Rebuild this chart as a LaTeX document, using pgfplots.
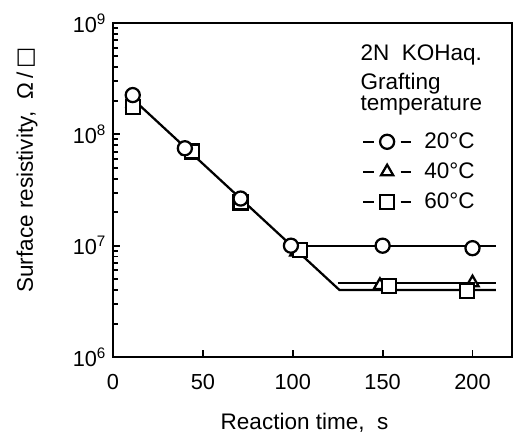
\documentclass[border=0pt]{standalone}
\usepackage{pgfplots}
\pgfplotsset{compat=1.18}
\usepackage{fontspec}
\setmainfont{Liberation Sans}
\newfontfamily\dejavu{DejaVu Sans}
\begin{document}
\begin{tikzpicture}
\path (-75.3pt,-52.7pt) rectangle (271.3pt,238pt);
\begin{axis}[
  at={(0pt,0pt)}, anchor=south west,
  scale only axis, width=266pt, height=222.7pt,
  xmin=0, xmax=222, ymode=log, ymin=1e6, ymax=1e9,
  axis line style={line width=1.9pt},
  tick pos=left, tick align=inside,
  xtick={0,50,100,150,200},
  ytick={1e6,1e7,1e8,1e9},
  yticklabels={10\textsuperscript{6},10\textsuperscript{7},10\textsuperscript{8},10\textsuperscript{9}},
  major tick length=5pt, minor tick length=3.5pt,
  every tick/.style={black, line width=1.3pt},
  /pgf/number format/assume math mode=true,
  ticklabel style={font=\fontsize{14.5}{16}\selectfont},
  xticklabel style={yshift=-8pt},
  yticklabel style={xshift=-1pt},
  xlabel={Reaction time,\ \ s},
  ylabel={Surface resistivity,\ \ Ω\,/\,{\dejavu □}},
  every axis x label/.style={at={(axis description cs:0.48,-0.198)}, anchor=center, font=\fontsize{15}{17}\selectfont},
  every axis y label/.style={at={(axis description cs:-0.215,0.56)}, rotate=90, anchor=center, font=\fontsize{15}{17}\selectfont},
  legend style={at={(axis description cs:0.612,0.69)}, anchor=north west, draw=none, fill=none,
    font=\fontsize{15}{17}\selectfont, row sep=4pt,
    nodes={inner xsep=8pt}},
  legend cell align=left,
  legend image code/.code={
    \draw[#1, mark=none] (0pt,0pt)--(7pt,0pt) (25pt,0pt)--(32pt,0pt);
    \draw[#1] plot coordinates {(16pt,0pt)};
  },
  mymark/.style={black, line width=1.5pt, mark size=4.7pt, mark options={fill=white, solid}},
]
% trend lines
\addplot[black, line width=1.5pt, forget plot] coordinates {(10,2.15e8) (126,4.0e6) (213,4.0e6)};
\addplot[black, line width=1.5pt, forget plot] coordinates {(100,1.0e7) (213,1.0e7)};
\addplot[black, line width=1.5pt, forget plot] coordinates {(125,4.6e6) (213,4.6e6)};
% 40 C triangles
\addplot[mymark, only marks, mark=triangle*, forget plot] coordinates {
 (11,1.9e8) (42,7.1e7) (71,2.55e7) (102,8.8e6) (148.5,4.4e6) (200,4.65e6)};
% 60 C squares
\addplot[mymark, only marks, mark=square*, forget plot] coordinates {
 (11,1.75e8) (44,7.0e7) (71,2.45e7) (104,9.1e6) (153.5,4.35e6) (197,3.95e6)};
% 20 C circles
\addplot[mymark, only marks, mark=*, forget plot] coordinates {
 (11,2.25e8) (40,7.5e7) (71,2.65e7) (99,1.0e7) (150,1.0e7) (200,9.5e6)};
\addlegendimage{mymark, mark=*}
\addlegendentry{20°C}
\addlegendimage{mymark, mark=triangle*}
\addlegendentry{40°C}
\addlegendimage{mymark, mark=square*}
\addlegendentry{60°C}
\node[anchor=north west, align=left, font=\fontsize{15}{13.5}\selectfont, inner sep=0pt]
  at (axis description cs:0.62,0.937) {2N\ \ KOHaq.\\[5pt] Grafting\\ temperature};
\end{axis}
\end{tikzpicture}
\end{document}
